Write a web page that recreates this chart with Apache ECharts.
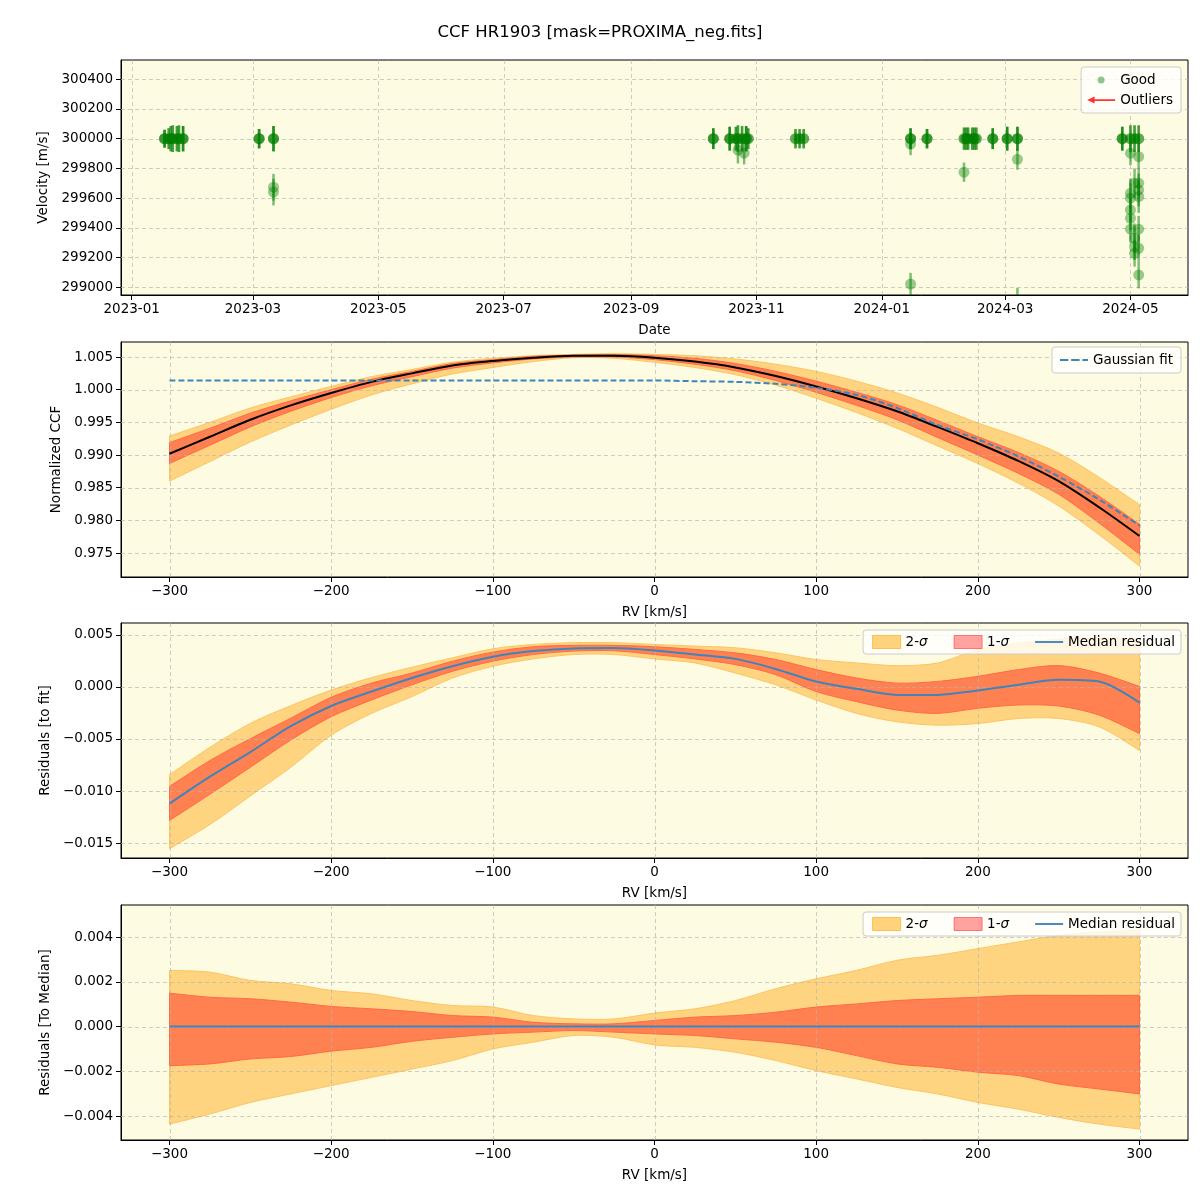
<!DOCTYPE html>
<html>
<head>
<meta charset="utf-8">
<title>CCF HR1903</title>
<script src="https://cdn.jsdelivr.net/npm/echarts@6/dist/echarts.min.js"></script>
<style>
  html, body { margin: 0; padding: 0; background: #ffffff; }
  #chart { width: 1200px; height: 1200px; }
</style>
</head>
<body>
<div id="chart"></div>
<script>
// ---- velocity time series (top panel) ----
// several nights have a few exposures stacked on the same value, they are listed once per exposure
const obsDates = [
  "2023-01-17", "2023-01-17", "2023-01-17", "2023-01-19", "2023-01-19", "2023-01-20", "2023-01-20", "2023-01-21", "2023-01-21",
  "2023-01-23", "2023-01-23", "2023-01-24", "2023-01-24", "2023-01-26", "2023-01-26", "2023-01-26",
  "2023-03-04", "2023-03-04", "2023-03-04", "2023-03-11", "2023-03-11", "2023-03-11", "2023-03-11", "2023-03-11",
  "2023-10-11", "2023-10-11", "2023-10-11", "2023-10-19", "2023-10-19", "2023-10-19", "2023-10-22", "2023-10-22",
  "2023-10-23", "2023-10-23", "2023-10-23", "2023-10-25", "2023-10-25",
  "2023-10-26", "2023-10-27", "2023-10-27", "2023-10-27", "2023-10-28", "2023-10-28",
  "2023-11-20", "2023-11-20", "2023-11-22", "2023-11-22", "2023-11-24", "2023-11-24",
  "2024-01-15", "2024-01-15", "2024-01-15", "2024-01-15", "2024-01-15", "2024-01-23", "2024-01-23", "2024-01-23",
  "2024-02-10", "2024-02-10", "2024-02-10", "2024-02-11", "2024-02-11", "2024-02-12", "2024-02-12", "2024-02-14", "2024-02-14",
  "2024-02-15", "2024-02-15", "2024-02-16", "2024-02-16",
  "2024-02-24", "2024-02-24", "2024-02-24", "2024-03-02", "2024-03-02", "2024-03-02",
  "2024-03-07", "2024-03-07", "2024-03-07", "2024-03-07", "2024-03-07",
  "2024-04-27", "2024-04-27", "2024-04-27",
  "2024-05-01", "2024-05-01", "2024-05-01", "2024-05-01", "2024-05-01", "2024-05-01", "2024-05-01", "2024-05-01",
  "2024-05-03", "2024-05-03", "2024-05-03", "2024-05-03", "2024-05-03", "2024-05-03",
  "2024-05-05", "2024-05-05", "2024-05-05", "2024-05-05", "2024-05-05", "2024-05-05", "2024-05-05", "2024-05-05", "2024-05-05"
];
const obsVel = [
  300000, 300000, 300000, 300000, 300000, 300000, 300000, 300000, 300000,
  300000, 300000, 300000, 300000, 300000, 300000, 300000,
  300000, 300000, 300000, 300000, 300000, 300000, 299673, 299640,
  300000, 300000, 300000, 300000, 300000, 300000, 300000, 300000,
  299923, 300000, 300000, 300000, 300000,
  299902, 300000, 300000, 300000, 300000, 300000,
  300000, 300000, 300000, 300000, 300000, 300000,
  300000, 300000, 300000, 299964, 299021, 300000, 300000, 300000,
  300000, 300000, 299774, 300000, 300000, 300000, 300000, 300000, 300000,
  300000, 300000, 300000, 300000,
  300000, 300000, 300000, 300000, 300000, 300000,
  300000, 300000, 300000, 299861, 298910,
  300000, 300000, 300000,
  300000, 300000, 299902, 299632, 299599, 299520, 299464, 299390,
  300000, 300000, 299700, 299329, 299273, 299228,
  300000, 300000, 299879, 299700, 299655, 299610, 299390, 299262, 299082
];
const obsErr = [
  60, 60, 60, 70, 70, 85, 85, 90, 90,
  85, 85, 90, 90, 85, 85, 85,
  65, 65, 65, 85, 85, 85, 90, 90,
  70, 70, 70, 80, 80, 80, 80, 80,
  90, 90, 90, 85, 85,
  75, 85, 85, 85, 70, 70,
  65, 65, 65, 65, 65, 65,
  70, 70, 70, 75, 75, 65, 65, 65,
  75, 75, 65, 75, 75, 75, 75, 75, 75,
  75, 75, 75, 75,
  70, 70, 70, 80, 80, 80,
  80, 80, 80, 70, 85,
  80, 80, 80,
  90, 90, 80, 100, 100, 80, 80, 90,
  90, 90, 100, 100, 90, 90,
  90, 90, 90, 90, 110, 110, 90, 90, 90
];
const dateTicks = ["2023-01-01", "2023-03-01", "2023-05-01", "2023-07-01", "2023-09-01", "2023-11-01", "2024-01-01", "2024-03-01", "2024-05-01"];
const velTicks = [299000, 299200, 299400, 299600, 299800, 300000, 300200, 300400];

// ---- CCF profile (second panel) ----
const rv = [-300, -275, -250, -225, -200, -175, -150, -125, -100, -75, -50, -25, 0, 25, 50, 75, 100, 125, 150, 175, 200, 225, 250, 275, 300];
const ccfMedian = [0.9902, 0.9928, 0.9954, 0.9976, 0.9995, 1.0012, 1.0025, 1.0037, 1.0044, 1.0049, 1.0052, 1.0052, 1.0049, 1.0043, 1.0034, 1.0021, 1.0005, 0.9987, 0.9967, 0.9943, 0.9918, 0.9891, 0.9860, 0.9820, 0.9776];
const ccf2Hi = [0.9929, 0.9950, 0.9972, 0.9989, 1.0005, 1.0020, 1.0031, 1.0042, 1.0048, 1.0052, 1.0054, 1.0055, 1.0054, 1.0052, 1.0047, 1.0039, 1.0028, 1.0013, 0.9995, 0.9973, 0.9949, 0.9928, 0.9903, 0.9866, 0.9824];
const ccf1Hi = [0.9919, 0.9941, 0.9964, 0.9983, 1.0000, 1.0016, 1.0028, 1.0040, 1.0046, 1.0051, 1.0053, 1.0054, 1.0052, 1.0048, 1.0040, 1.0028, 1.0013, 0.9996, 0.9977, 0.9953, 0.9928, 0.9904, 0.9875, 0.9837, 0.9794];
const ccf1Lo = [0.9887, 0.9915, 0.9943, 0.9967, 0.9988, 1.0006, 1.0020, 1.0033, 1.0041, 1.0047, 1.0050, 1.0050, 1.0046, 1.0039, 1.0029, 1.0014, 0.9996, 0.9976, 0.9954, 0.9927, 0.9900, 0.9872, 0.9840, 0.9796, 0.9748];
const ccf2Lo = [0.9860, 0.9890, 0.9920, 0.9946, 0.9970, 0.9992, 1.0009, 1.0024, 1.0034, 1.0043, 1.0049, 1.0048, 1.0042, 1.0034, 1.0023, 1.0007, 0.9987, 0.9965, 0.9941, 0.9914, 0.9887, 0.9857, 0.9822, 0.9778, 0.9730];
const gaussFit = [1.0014, 1.0014, 1.0014, 1.0014, 1.0014, 1.0014, 1.0014, 1.0014, 1.0014, 1.0014, 1.0014, 1.0014, 1.0014, 1.0013, 1.0012, 1.0009, 1.0003, 0.9992, 0.9972, 0.9946, 0.9924, 0.9898, 0.9867, 0.9832, 0.9792];
const ccfTicks = [0.975, 0.980, 0.985, 0.990, 0.995, 1.000, 1.005];

// ---- residuals to fit (third panel) ----
const resMedian = [-0.01121, -0.00862, -0.00626, -0.00377, -0.00183, -0.00044, 0.00086, 0.00199, 0.00290, 0.00345, 0.00371, 0.00374, 0.00350, 0.00312, 0.00270, 0.00173, 0.00053, -0.00018, -0.00076, -0.00076, -0.00034, 0.00021, 0.00070, 0.00053, -0.00150];
const res2Hi = [-0.00843, -0.00580, -0.00350, -0.00180, -0.00030, 0.00090, 0.00190, 0.00280, 0.00367, 0.00409, 0.00426, 0.00426, 0.00409, 0.00393, 0.00377, 0.00328, 0.00264, 0.00231, 0.00205, 0.00230, 0.00360, 0.00420, 0.00460, 0.00480, 0.00460];
const res1Hi = [-0.00956, -0.00707, -0.00497, -0.00300, -0.00099, 0.00037, 0.00134, 0.00248, 0.00335, 0.00387, 0.00400, 0.00400, 0.00387, 0.00361, 0.00328, 0.00264, 0.00167, 0.00086, 0.00037, 0.00053, 0.00102, 0.00167, 0.00206, 0.00134, 0.00005];
const res1Lo = [-0.01283, -0.01031, -0.00772, -0.00510, -0.00286, -0.00125, 0.00021, 0.00151, 0.00248, 0.00312, 0.00345, 0.00348, 0.00312, 0.00270, 0.00215, 0.00118, -0.00044, -0.00141, -0.00222, -0.00254, -0.00205, -0.00173, -0.00183, -0.00270, -0.00448];
const res2Lo = [-0.01555, -0.01322, -0.01047, -0.00772, -0.00464, -0.00254, -0.00092, 0.00086, 0.00199, 0.00270, 0.00312, 0.00312, 0.00270, 0.00231, 0.00134, 0.00021, -0.00125, -0.00254, -0.00335, -0.00367, -0.00351, -0.00303, -0.00303, -0.00383, -0.00610];
const resTicks = [-0.015, -0.010, -0.005, 0.000, 0.005];

// ---- residuals to median (bottom panel) ----
const medZero = [0, 0, 0, 0, 0, 0, 0, 0, 0, 0, 0, 0, 0, 0, 0, 0, 0, 0, 0, 0, 0, 0, 0, 0, 0];
const dev2Hi = [0.00251, 0.00243, 0.00206, 0.00191, 0.00161, 0.00146, 0.00116, 0.00094, 0.00087, 0.00049, 0.00034, 0.00034, 0.00060, 0.00079, 0.00116, 0.00169, 0.00213, 0.00251, 0.00296, 0.00318, 0.00348, 0.00378, 0.00407, 0.00422, 0.00430];
const dev1Hi = [0.00149, 0.00131, 0.00124, 0.00109, 0.00090, 0.00079, 0.00067, 0.00049, 0.00042, 0.00019, 0.00012, 0.00012, 0.00027, 0.00042, 0.00049, 0.00064, 0.00087, 0.00101, 0.00116, 0.00124, 0.00131, 0.00139, 0.00139, 0.00139, 0.00139];
const dev1Lo = [-0.00175, -0.00167, -0.00145, -0.00134, -0.00110, -0.00093, -0.00066, -0.00048, -0.00033, -0.00025, -0.00018, -0.00025, -0.00033, -0.00040, -0.00055, -0.00070, -0.00093, -0.00130, -0.00167, -0.00182, -0.00204, -0.00219, -0.00257, -0.00279, -0.00301];
const dev2Lo = [-0.00436, -0.00391, -0.00339, -0.00301, -0.00264, -0.00227, -0.00190, -0.00152, -0.00100, -0.00070, -0.00040, -0.00048, -0.00082, -0.00093, -0.00115, -0.00152, -0.00197, -0.00234, -0.00272, -0.00301, -0.00339, -0.00369, -0.00406, -0.00436, -0.00458];
const devTicks = [-0.004, -0.002, 0.000, 0.002, 0.004];

const rvTicks = [-300, -200, -100, 0, 100, 200, 300];

const FONT = "DejaVu Sans";
const BG = "#fdfbe1";
const ORANGE = "#fed480";
const ORANGE_EDGE = "#fdc462";
const CORAL = "#ff8050";
const CORAL_EDGE = "#ff6a45";
const BLUE = "#3f84bb";

// dates as local-midnight timestamps, the x axis of the top panel is a plain value axis in ms
const ts = (s) => {
  const p = s.split("-").map(Number);
  return new Date(p[0], p[1] - 1, p[2]).getTime();
};
const minus = (s) => String(s).replace("-", "\u2212");
const zip = (xs, ys) => xs.map((x, i) => [x, ys[i]]);

// panels share the same box geometry
const panelTops = [60, 342, 623, 905];
const grids = panelTops.map((top) => ({
  left: 121, top: top, width: 1067, height: 235,
  show: true, backgroundColor: BG, borderColor: "#000", borderWidth: 1,
  containLabel: false, outerBoundsMode: "none"
}));

function makeXAxis(idx, min, max, ticks, fmt, name) {
  return {
    type: "value", gridIndex: idx, min: min, max: max,
    name: name, nameLocation: "middle", nameGap: 28,
    nameTextStyle: { fontFamily: FONT, fontSize: 13.5, color: "#000" },
    axisLine: { show: true, onZero: false, lineStyle: { color: "#000", width: 1 } },
    axisTick: { show: true, length: 5, customValues: ticks, lineStyle: { color: "#000" } },
    axisLabel: { customValues: ticks, formatter: fmt, margin: 7, fontFamily: FONT, fontSize: 13.5, color: "#000", hideOverlap: false },
    splitLine: { show: false }
  };
}
function makeYAxis(idx, min, max, ticks, fmt, name, gap) {
  return {
    type: "value", gridIndex: idx, min: min, max: max,
    name: name, nameLocation: "middle", nameGap: gap, nameRotate: 90,
    nameTextStyle: { fontFamily: FONT, fontSize: 13.5, color: "#000" },
    axisLine: { show: true, onZero: false, lineStyle: { color: "#000", width: 1 } },
    axisTick: { show: true, length: 5, customValues: ticks, lineStyle: { color: "#000" } },
    axisLabel: { customValues: ticks, formatter: fmt, margin: 8, fontFamily: FONT, fontSize: 13.5, color: "#000" },
    splitLine: { show: false }
  };
}

// dashed grid drawn above fills and below lines, like matplotlib
function gridLines(idx, xTicks, yTicks) {
  return {
    type: "custom", xAxisIndex: idx, yAxisIndex: idx, z: 3, silent: true,
    data: [[xTicks[0], yTicks[0]]],
    renderItem: (params, api) => {
      const cs = params.coordSys;
      const kids = [];
      const st = { stroke: "rgba(180,180,180,0.65)", lineWidth: 1, lineDash: [4, 3] };
      xTicks.forEach((t) => {
        const x = Math.round(api.coord([t, yTicks[0]])[0]) + 0.5;
        kids.push({ type: "line", shape: { x1: x, y1: cs.y, x2: x, y2: cs.y + cs.height }, style: st });
      });
      yTicks.forEach((t) => {
        const y = Math.round(api.coord([xTicks[0], t])[1]) + 0.5;
        kids.push({ type: "line", shape: { x1: cs.x, y1: y, x2: cs.x + cs.width, y2: y }, style: st });
      });
      return { type: "group", children: kids };
    }
  };
}

// a filled band between lo and hi: one smoothed polygon, drawn once from the first item.
// the corner points at both ends are doubled so the spline keeps the ends square
function band(idx, name, lo, hi, fill, edge) {
  return {
    type: "custom", name: name, xAxisIndex: idx, yAxisIndex: idx, z: 1, silent: true,
    itemStyle: { color: fill },
    encode: { x: 0, y: [1, 2] },
    data: rv.map((x, i) => [x, lo[i], hi[i]]),
    renderItem: (params, api) => {
      if (params.dataIndex !== 0) return null;
      const n = rv.length;
      const pts = [];
      pts.push(api.coord([rv[0], hi[0]]));
      for (let i = 0; i < n; i++) pts.push(api.coord([rv[i], hi[i]]));
      pts.push(api.coord([rv[n - 1], hi[n - 1]]));
      pts.push(api.coord([rv[n - 1], lo[n - 1]]));
      for (let i = n - 1; i >= 0; i--) pts.push(api.coord([rv[i], lo[i]]));
      pts.push(api.coord([rv[0], lo[0]]));
      return { type: "polygon", shape: { points: pts, smooth: 0.3 }, style: { fill: fill, stroke: edge, lineWidth: 1 } };
    }
  };
}

function line(idx, name, ys, color, width, dashed) {
  return {
    type: "line", name: name, xAxisIndex: idx, yAxisIndex: idx, smooth: 0.3,
    symbol: "none", silent: true, z: 4, color: color,
    lineStyle: { color: color, width: width, type: dashed ? [6, 3] : "solid" },
    data: zip(rv, ys)
  };
}

const dateTickVals = dateTicks.map(ts);
const fmtDate = (v) => {
  const d = new Date(v);
  return d.getFullYear() + "-" + String(d.getMonth() + 1).padStart(2, "0");
};
const fmt3 = (v) => minus(v.toFixed(3));
const fmtRv = (v) => minus(String(v));

const obsPoints = obsDates.map((d, i) => [ts(d), obsVel[i]]);
const obsBars = obsDates.map((d, i) => [ts(d), obsVel[i], obsErr[i]]);

const legendText = { fontFamily: FONT, fontSize: 13.5, color: "#000",
  rich: { n: { fontFamily: FONT, fontSize: 13.5 }, s: { fontFamily: FONT, fontSize: 13.5, fontStyle: "italic" } } };
const sigmaFmt = (name) => {
  if (name === "2-σ") return "{n|2-}{s|σ}";
  if (name === "1-σ") return "{n|1-}{s|σ}";
  return name;
};
const LINE_ICON = "path://M0,0H30V2H0Z";
const DASH_ICON = "path://M0,0H9V2H0ZM12,0H21V2H12ZM24,0H30V2H24Z";
const ARROW_ICON = "path://M0,4L8,0V3H30V5H8V8Z";
const legendBox = { backgroundColor: "rgba(255,255,255,0.8)", borderColor: "#cccccc", borderWidth: 1, borderRadius: 3 };

function sigmaLegend(top) {
  return Object.assign({
    orient: "horizontal", right: 19, top: top, padding: [5, 6, 5, 9], itemGap: 26,
    itemWidth: 28, itemHeight: 13, selectedMode: false, textStyle: legendText, formatter: sigmaFmt,
    data: [
      { name: "2-σ", icon: "rect", itemStyle: { color: "rgba(255,165,0,0.5)", borderColor: "rgba(255,165,0,0.6)", borderWidth: 1 } },
      { name: "1-σ", icon: "rect", itemStyle: { color: "rgba(255,50,50,0.45)", borderColor: "rgba(255,40,40,0.55)", borderWidth: 1 } },
      { name: "Median residual", icon: LINE_ICON, itemStyle: { color: BLUE } }
    ]
  }, legendBox);
}

const option = {
  animation: false,
  backgroundColor: "#ffffff",
  title: {
    text: "CCF HR1903 [mask=PROXIMA_neg.fits]", left: "center", top: 19,
    textStyle: { fontFamily: FONT, fontSize: 16.5, fontWeight: "normal", color: "#000" }
  },
  grid: grids,
  legend: [
    Object.assign({
      orient: "vertical", right: 19, top: 67, padding: [6, 8, 6, 6], itemGap: 6,
      itemWidth: 28, itemHeight: 7, selectedMode: false, symbolKeepAspect: false, textStyle: legendText,
      data: [
        { name: "Good", icon: "circle", itemStyle: { color: "rgba(0,128,0,0.55)" } },
        { name: "Outliers", icon: ARROW_ICON, itemStyle: { color: "#ff0000" } }
      ]
    }, legendBox),
    Object.assign({
      orient: "horizontal", right: 19, top: 347, padding: [6, 8, 6, 8],
      itemWidth: 28, itemHeight: 2, selectedMode: false, textStyle: legendText,
      data: [{ name: "Gaussian fit", icon: DASH_ICON, itemStyle: { color: BLUE } }]
    }, legendBox),
    sigmaLegend(630),
    sigmaLegend(912)
  ],
  xAxis: [
    makeXAxis(0, new Date(2022, 11, 26, 19).getTime(), new Date(2024, 4, 29).getTime(), dateTickVals, fmtDate, "Date"),
    makeXAxis(1, -330, 330, rvTicks, fmtRv, "RV [km/s]"),
    makeXAxis(2, -330, 330, rvTicks, fmtRv, "RV [km/s]"),
    makeXAxis(3, -330, 330, rvTicks, fmtRv, "RV [km/s]")
  ],
  yAxis: [
    makeYAxis(0, 298947, 300530, velTicks, (v) => String(v), "Velocity [m/s]", 64),
    makeYAxis(1, 0.97133, 1.0073, ccfTicks, fmt3, "Normalized CCF", 52),
    makeYAxis(2, -0.01644, 0.00615, resTicks, fmt3, "Residuals [to fit]", 63),
    makeYAxis(3, -0.00507, 0.00543, devTicks, fmt3, "Residuals [To Median]", 63)
  ],
  series: [
    gridLines(0, dateTickVals, velTicks),
    gridLines(1, rvTicks, ccfTicks),
    gridLines(2, rvTicks, resTicks),
    gridLines(3, rvTicks, devTicks),

    // top panel: error bars then points
    {
      type: "custom", name: "errbars", xAxisIndex: 0, yAxisIndex: 0, z: 4, silent: true, clip: true,
      encode: { x: 0, y: 1 },
      data: obsBars,
      renderItem: (params, api) => {
        const x = api.value(0), v = api.value(1), e = api.value(2);
        const p1 = api.coord([x, v + e]);
        const p2 = api.coord([x, v - e]);
        return { type: "line", shape: { x1: p1[0], y1: p1[1], x2: p2[0], y2: p2[1] },
          style: { stroke: "rgba(0,128,0,0.5)", lineWidth: 2.5 } };
      }
    },
    {
      type: "scatter", name: "Good", xAxisIndex: 0, yAxisIndex: 0, z: 5, silent: true,
      symbolSize: 11, itemStyle: { color: "rgba(0,128,0,0.5)" }, data: obsPoints
    },
    { type: "scatter", name: "Outliers", xAxisIndex: 0, yAxisIndex: 0, itemStyle: { color: "#ff0000" }, data: [] },

    // CCF panel
    band(1, "ccf 2σ", ccf2Lo, ccf2Hi, ORANGE, ORANGE_EDGE),
    band(1, "ccf 1σ", ccf1Lo, ccf1Hi, CORAL, CORAL_EDGE),
    line(1, "Median CCF", ccfMedian, "#000000", 2, false),
    line(1, "Gaussian fit", gaussFit, BLUE, 2, true),

    // residuals to fit
    band(2, "2-σ", res2Lo, res2Hi, ORANGE, ORANGE_EDGE),
    band(2, "1-σ", res1Lo, res1Hi, CORAL, CORAL_EDGE),
    line(2, "Median residual", resMedian, BLUE, 2, false),

    // residuals to median
    band(3, "2-σ", dev2Lo, dev2Hi, ORANGE, ORANGE_EDGE),
    band(3, "1-σ", dev1Lo, dev1Hi, CORAL, CORAL_EDGE),
    line(3, "Median residual", medZero, BLUE, 2, false)
  ]
};

const myChart = echarts.init(document.getElementById("chart"), null, { renderer: "canvas" });
myChart.setOption(option);
</script>
</body>
</html>
